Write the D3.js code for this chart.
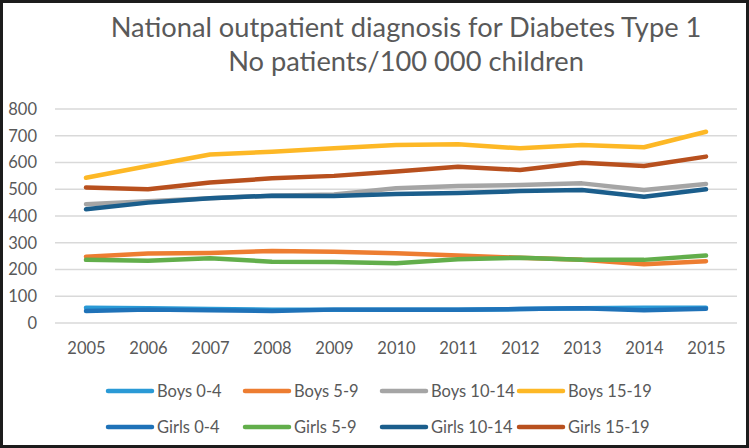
<!DOCTYPE html>
<html>
<head>
<meta charset="utf-8">
<script src="https://cdn.jsdelivr.net/npm/d3@7"></script>
<style>
  html, body { margin: 0; padding: 0; background: #fff; }
  text { font-family: Lato, "Open Sans", sans-serif; fill: #595959; }
</style>
</head>
<body>
<div id="chart"></div>
<script>
// ------ Data ---------------//
var years = ["2005","2006","2007","2008","2009","2010","2011","2012","2013","2014","2015"];
var yTicks = [0, 100, 200, 300, 400, 500, 600, 700, 800];

var boys0_4    = [57, 55, 52, 50, 50, 50, 50, 52, 55, 57, 57];
var boys5_9    = [248, 260, 262, 269, 266, 261, 252, 244, 236, 220, 231];
var boys10_14  = [444, 455, 466, 476, 480, 504, 512, 516, 522, 497, 520];
var boys15_19  = [543, 587, 630, 640, 653, 665, 668, 653, 665, 657, 715];
var girls0_4   = [45, 50, 48, 45, 50, 50, 50, 52, 55, 48, 53];
var girls5_9   = [236, 233, 242, 229, 228, 223, 238, 244, 236, 236, 252];
var girls10_14 = [425, 450, 466, 476, 475, 482, 486, 493, 497, 472, 500];
var girls15_19 = [507, 500, 525, 541, 550, 566, 584, 572, 599, 587, 622];

var seriesNames = ["Boys 0-4","Boys 5-9","Boys 10-14","Boys 15-19","Girls 0-4","Girls 5-9","Girls 10-14","Girls 15-19"];
var seriesValues = [boys0_4, boys5_9, boys10_14, boys15_19, girls0_4, girls5_9, girls10_14, girls15_19];
var seriesColors = ["#2a9ad6","#ed7d31","#a5a5a5","#fdb826","#1f72b8","#62ae4b","#1b5e8c","#b8501e"];

// ------ Chart area ---------------//
var width = 749, height = 448;
var margin = {top: 109, right: 12, bottom: 125, left: 55};

var svg = d3.select("#chart").append("svg")
    .attr("width", width)
    .attr("height", height);

svg.append("rect")
    .attr("width", width).attr("height", height)
    .attr("fill", "#fff");

// ------ Title ---------------//
var title = svg.append("text")
    .attr("x", 406).attr("y", 37)
    .attr("text-anchor", "middle")
    .style("font-size", "24px")
    .text("National outpatient diagnosis for Diabetes Type 1");
// fit the title to the width it has in the picture
var tw = title.node().getComputedTextLength();
var titleSize = 24 * 591 / tw;
title.style("font-size", titleSize + "px");

svg.append("text")
    .attr("x", 406).attr("y", 71)
    .attr("text-anchor", "middle")
    .style("font-size", titleSize + "px")
    .text("No patients/100 000 children");

// ------ Scales ---------------//
var x = d3.scalePoint()
    .domain(years)
    .range([margin.left, width - margin.right])
    .padding(0.5);

var y = d3.scaleLinear()
    .domain([0, 800])
    .range([height - margin.bottom, margin.top]);

// ------ Gridlines ---------------//
svg.append("g")
  .selectAll("line")
  .data(yTicks)
  .join("line")
    .attr("x1", margin.left).attr("x2", width - margin.right)
    .attr("y1", d => y(d)).attr("y2", d => y(d))
    .attr("stroke", "#d9d9d9")
    .attr("stroke-width", 1.5);

// ------ Axes ---------------//
var yAxis = svg.append("g")
    .attr("transform", `translate(${margin.left},0)`)
    .call(d3.axisLeft(y).tickValues(yTicks).tickSize(0).tickPadding(18));
yAxis.select(".domain").remove();
yAxis.selectAll("text").style("font-size", "16.5px").style("fill", "#595959").style("font-family", "Lato, sans-serif");

var xAxis = svg.append("g")
    .attr("transform", `translate(0,${y(0)})`)
    .call(d3.axisBottom(x).tickSize(0).tickPadding(19));
xAxis.select(".domain").remove();
xAxis.selectAll("text").style("font-size", "16.5px").style("fill", "#595959").style("font-family", "Lato, sans-serif");

// ------ Lines ---------------//
var line = d3.line()
    .x((d, i) => x(years[i]))
    .y(d => y(d));

svg.append("g")
  .selectAll("path")
  .data(seriesValues)
  .join("path")
    .attr("d", line)
    .attr("fill", "none")
    .attr("stroke", (d, i) => seriesColors[i])
    .attr("stroke-width", 4.5)
    .attr("stroke-linecap", "round")
    .attr("stroke-linejoin", "round");

// ------ Legend ---------------//
var legend = svg.append("g")
  .selectAll("g")
  .data(seriesNames)
  .join("g")
    .attr("transform", (d, i) => `translate(${108 + (i % 4) * 137},${i < 4 ? 391 : 427})`);

legend.append("line")
    .attr("x1", 0).attr("x2", 44)
    .attr("stroke", (d, i) => seriesColors[i])
    .attr("stroke-width", 4.5)
    .attr("stroke-linecap", "round");

legend.append("text")
    .attr("x", 49)
    .attr("dy", "0.35em")
    .style("font-size", "16.5px")
    .text(d => d);

// ------ Frame ---------------//
svg.append("rect")
    .attr("x", 1.5).attr("y", 1.5)
    .attr("width", width - 3).attr("height", height - 3)
    .attr("fill", "none")
    .attr("stroke", "#1c1c1c")
    .attr("stroke-width", 3);
</script>
</body>
</html>
